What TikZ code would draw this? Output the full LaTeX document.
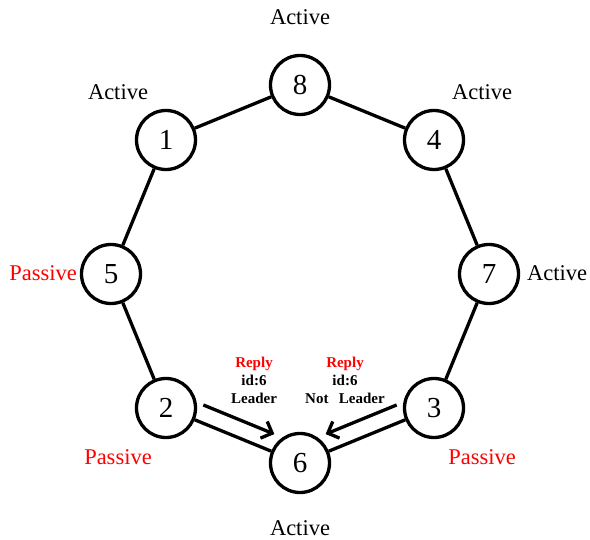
\documentclass[tikz,border=0pt]{standalone}
\usepackage{fontspec}
\setmainfont{Liberation Serif}
\usetikzlibrary{calc,arrows.meta}
\begin{document}
\begin{tikzpicture}[x=1pt,y=-1pt,
  proc/.style={circle,draw=black,line width=3.3pt,fill=white,minimum size=59pt,inner sep=0pt,font=\fontsize{29}{32}\selectfont},
  ring/.style={line width=3.3pt},
  stat/.style={font=\fontsize{22.5}{24}\selectfont,inner sep=0pt},
  pas/.style={stat,text=red},
  msg/.style={line width=3.3pt,-{Straight Barb[length=9pt,width=18pt,line width=3.3pt]}},
  msglabel/.style={align=center,font=\bfseries\fontsize{15}{18}\selectfont,inner sep=0pt}
]
\useasboundingbox (0,0) rectangle (590,540);
\node[proc] (n8) at (300,85) {8};
\node[proc] (n4) at (434,140) {4};
\node[proc] (n7) at (489,274) {7};
\node[proc] (n3) at (434,408) {3};
\node[proc] (n6) at (300,463) {6};
\node[proc] (n2) at (166,408) {2};
\node[proc] (n5) at (111,274) {5};
\node[proc] (n1) at (166,140) {1};

\draw[ring] (n8) -- (n4);
\draw[ring] (n4) -- (n7);
\draw[ring] (n7) -- (n3);
\draw[ring] (n3) -- (n6);
\draw[ring] (n6) -- (n2);
\draw[ring] (n2) -- (n5);
\draw[ring] (n5) -- (n1);
\draw[ring] (n1) -- (n8);

\draw[msg] ($(n2)!0.23!(n6)+(6.5,-15.7)$) -- ($(n2)!0.76!(n6)+(6.5,-15.7)$);
\draw[msg] ($(n3)!0.23!(n6)+(-6.5,-15.7)$) -- ($(n3)!0.76!(n6)+(-6.5,-15.7)$);

\node[msglabel] (l1) at (254,380) {\textcolor{red}{Reply}\\id:6\\Leader};
\node[msglabel] (l2) at (345,380) {\textcolor{red}{Reply}\\id:6\\Not\hspace{0.7em}Leader};

\node[stat] (s8) at (300,17) {Active};
\node[stat] (s1) at (118,92) {Active};
\node[stat] (s4) at (482,92) {Active};
\node[pas,anchor=east] (s5) at (77,273) {Passive};
\node[stat,anchor=west] (s7) at (527,273) {Active};
\node[pas] (s2) at (118,457) {Passive};
\node[pas] (s3) at (482,457) {Passive};
\node[stat] (s6) at (300,528) {Active};
\end{tikzpicture}
\end{document}
